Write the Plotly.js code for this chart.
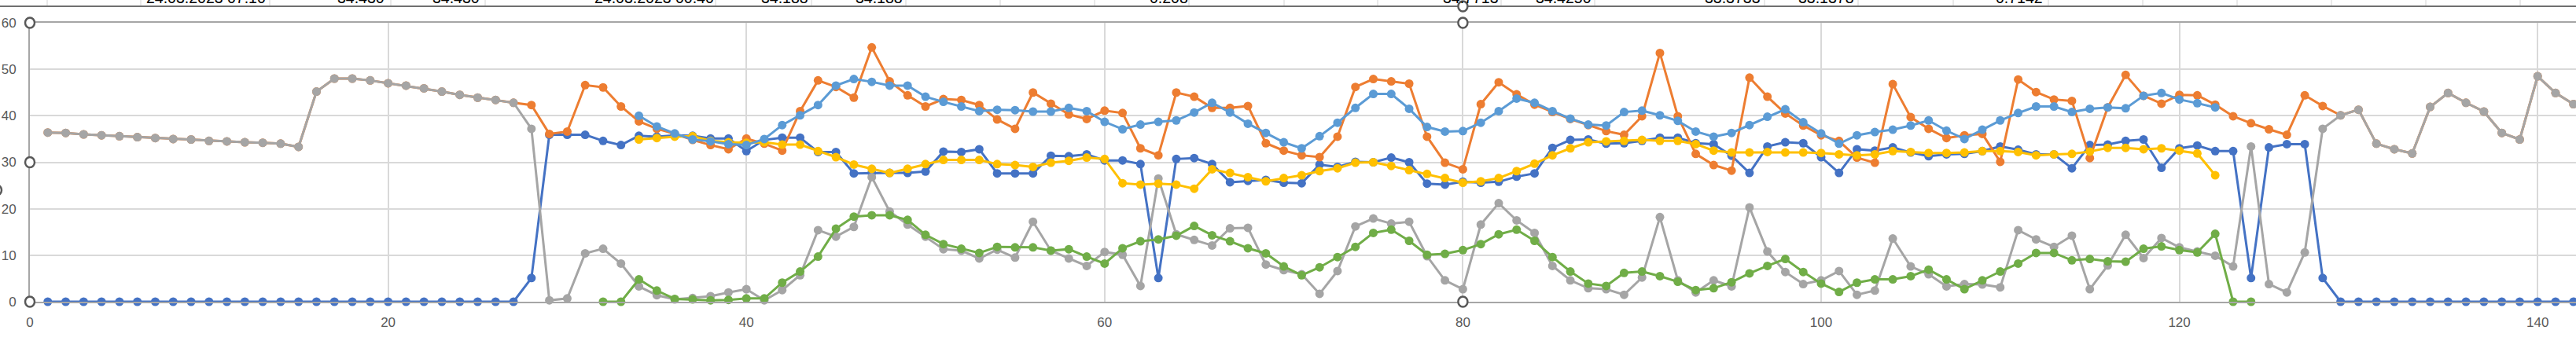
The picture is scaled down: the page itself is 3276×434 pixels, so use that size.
<!DOCTYPE html>
<html>
<head>
<meta charset="utf-8">
<script src="https://cdn.plot.ly/plotly-3.0.1.min.js"></script>
<style>
  html, body { margin: 0; padding: 0; overflow: hidden; background: #fff; }
  #chart { width: 3276px; height: 434px; }
</style>
</head>
<body>
<div id="chart"></div>
<script>
// sample index on the x axis (1..142)
const sampleIdx = Array.from({length: 142}, (_, i) => i + 1);

// series values, null where a series has no point
const blueVals = [
  0, 0, 0, 0, 0, 0, 0, 0, 0, 0, 0, 0, 0, 0, 0, 0, 0, 0, 0, 0, 0, 0, 0, 0, 0, 0, 0,
  5.1,
  35.9, 35.9, 35.9, 34.6, 33.7, 35.7, 35.5, 35.8, 35.7, 35.1, 35.1, 32.4, 34.8, 35.3, 35.3, 32.2,
  32.2, 27.6, 27.7, 27.7, 27.7, 28.0, 32.3, 32.2, 32.8, 27.6, 27.6, 27.6, 31.4, 31.3, 31.7, 30.4, 30.4, 29.6,
  5.1, 30.7, 30.9, 29.6, 25.7, 26.0, 26.2, 25.6, 25.5, 29.5, 29.0, 30.1, 30.0, 31.0, 30.0, 25.4, 25.2,
  25.8, 25.6, 25.8, 26.9, 27.6, 33.1, 34.8, 34.9, 34.0, 34.1, 34.6, 35.3, 35.3, 34.1, 33.9, 31.4, 27.7,
  33.4, 34.3, 34.1, 31.1, 27.7, 32.8, 32.5, 33.2, 32.1, 31.3, 31.7, 31.8, 32.4, 33.4, 32.7, 31.7, 31.7,
  28.7, 33.7, 33.8, 34.6, 34.9, 28.8, 33.0, 33.6, 32.4, 32.4, 5.1, 33.2, 33.9, 33.9, 5.1,
  0, 0, 0, 0, 0, 0, 0, 0, 0, 0, 0, 0, 0, 0
];

const orangeVals = [
  36.4, 36.3, 36.0, 35.8, 35.6, 35.4, 35.2, 35.0, 34.9, 34.6, 34.5, 34.3, 34.2, 34.0, 33.3,
  45.2, 48.0, 48.0, 47.6, 47.0, 46.5, 45.9, 45.2, 44.5, 43.9, 43.4, 42.8,
  42.3, 36.1, 36.6, 46.6, 46.1, 42.0, 38.8, 37.2, 36.1, 34.8, 33.7, 32.8, 35.1, 34.0, 32.5, 41.0, 47.6,
  46.2, 43.9, 54.7, 47.4, 44.4, 42.0, 43.6, 43.4, 42.3, 39.2, 37.2, 45.0, 42.6, 40.3, 39.3, 41.1, 40.6, 33.0,
  31.5, 45.0, 44.1, 41.7, 41.7, 42.1, 34.1, 32.5, 31.5, 31.1, 35.5, 46.2, 47.9, 47.4, 46.9, 35.5, 29.9,
  28.5, 42.5, 47.2, 44.6, 42.4, 40.8, 39.3, 38.0, 36.7, 35.9, 39.9, 53.5, 39.9, 31.8, 29.4, 28.2, 48.2,
  44.1, 40.5, 37.9, 35.8, 34.6, 31.0, 29.9, 46.8, 39.7, 37.2, 35.2, 35.8, 36.1, 30.1, 47.8, 45.1, 43.5,
  43.2, 30.9, 41.8, 48.8, 44.3, 42.6, 44.5, 44.4, 42.4, 39.9, 38.4, 37.1, 35.9, 44.4, 42.1, 40.1,
  41.3, 34.0, 32.8, 31.9, 41.9, 44.9, 42.8, 40.9, 36.3, 34.9, 48.5, 44.9, 42.5
];

const grayVals = [
  36.4, 36.3, 36.0, 35.8, 35.6, 35.4, 35.2, 35.0, 34.9, 34.6, 34.5, 34.3, 34.2, 34.0, 33.3,
  45.2, 48.0, 48.0, 47.6, 47.0, 46.5, 45.9, 45.2, 44.5, 43.9, 43.4, 42.8,
  37.2,
  0.3, 0.7, 10.4, 11.4, 8.2, 3.3, 1.4, 0.5, 0.8, 1.2, 2.0, 2.7, 0.3, 2.5, 5.7, 15.4,
  14.0, 16.1, 26.8, 19.4, 16.6, 14.0, 11.3, 11.0, 9.3, 11.2, 9.5, 17.2, 11.0, 9.3, 7.7, 10.7, 10.1, 3.4,
  26.5, 14.5, 13.3, 12.1, 15.8, 15.9, 8.0, 6.8, 5.9, 1.7, 6.6, 16.2, 17.9, 16.8, 17.2, 9.8, 4.6,
  2.7, 16.6, 21.2, 17.5, 14.8, 7.7, 4.6, 2.9, 2.7, 1.5, 5.2, 18.2, 4.6, 2.0, 4.6, 3.3, 20.3,
  10.8, 6.4, 3.8, 4.6, 6.6, 1.5, 2.4, 13.6, 7.6, 5.9, 3.3, 3.8, 3.7, 3.1, 15.4, 13.4, 11.8,
  14.2, 2.7, 7.8, 14.4, 9.4, 13.7, 11.7, 10.8, 9.9, 7.6, 33.4, 3.8, 2.0, 10.6, 37.2, 40.1, 41.3,
  34.0, 32.8, 31.9, 41.9, 44.9, 42.8, 40.9, 36.3, 34.9, 48.5, 44.9, 42.5
];

const yellowVals = [
  null, null, null, null, null, null, null, null, null, null, null,
  null, null, null, null, null, null, null, null, null, null, null,
  null, null, null, null, null, null, null, null, null, null, null,
  34.9, 35.2, 35.5, 35.6, 34.6, 34.3, 34.2, 34.3, 33.8, 33.8, 32.4,
  31.1, 29.5, 28.6, 27.7, 28.6, 29.6, 30.5, 30.5, 30.5, 29.6, 29.4, 29.0, 29.9, 30.3, 31.0, 30.7, 25.5, 25.2,
  25.4, 25.2, 24.3, 28.5, 27.7, 26.8, 25.9, 26.6, 27.2, 28.1, 28.7, 29.9, 30.0, 29.2, 28.3, 27.5, 26.6,
  25.6, 25.9, 26.6, 28.1, 29.7, 31.5, 33.0, 34.3, 34.5, 34.6, 34.8, 34.6, 34.6, 33.9, 32.5, 32.1, 32.1,
  32.2, 32.1, 32.1, 32.0, 31.7, 31.5, 31.7, 32.4, 32.2, 32.0, 32.0, 32.1, 32.4, 32.4, 32.2, 31.5, 31.7,
  31.8, 32.3, 33.1, 33.1, 32.8, 33.0, 32.5, 31.9, 27.2,
  null, null, null, null, null, null, null, null, null, null,
  null, null, null, null, null, null, null, null, null, null
];

const lightBlueVals = [
  null, null, null, null, null, null, null, null, null, null, null,
  null, null, null, null, null, null, null, null, null, null, null,
  null, null, null, null, null, null, null, null, null, null, null,
  40.0, 37.7, 36.2, 34.9, 34.5, 33.9, 33.7, 35.0, 38.0, 40.1, 42.3,
  46.5, 47.9, 47.3, 46.5, 46.5, 44.1, 43.0, 42.0, 41.0, 41.3, 41.2, 40.9, 40.9, 41.7, 41.0, 38.7, 37.1, 38.1,
  38.7, 39.0, 40.7, 42.8, 40.7, 38.3, 36.3, 34.3, 33.0, 35.6, 38.5, 41.7, 44.7, 44.7, 41.5, 37.6, 36.6,
  36.7, 38.5, 41.0, 43.7, 42.8, 41.0, 39.4, 38.1, 37.9, 40.8, 41.1, 40.1, 38.9, 36.6, 35.5, 36.3, 38.0,
  39.8, 41.4, 38.6, 36.2, 34.0, 35.8, 36.5, 37.0, 37.9, 39.0, 36.8, 35.0, 37.0, 39.0, 40.6, 42.0, 42.0,
  40.8, 41.5, 41.8, 41.6, 44.3, 44.9, 43.5, 42.7, 41.8,
  null, null, null, null, null, null, null, null, null, null,
  null, null, null, null, null, null, null, null, null, null
];

const greenVals = [
  null, null, null, null, null, null, null, null, null, null,
  null, null, null, null, null, null, null, null, null, null,
  null, null, null, null, null, null, null, null, null, null, null,
  0, 0, 4.8, 2.4, 0.6, 0.5, 0.3, 0.4, 0.7, 0.7, 4.1, 6.5, 9.7,
  15.7, 18.3, 18.6, 18.6, 17.6, 14.4, 12.4, 11.4, 10.5, 11.8, 11.7, 11.7, 11.0, 11.3, 9.7, 8.2, 11.5, 13.0,
  13.4, 14.2, 16.3, 14.3, 13.0, 11.5, 10.4, 7.6, 5.7, 7.4, 9.6, 11.8, 14.8, 15.5, 13.1, 10.1, 10.3,
  11.1, 12.4, 14.5, 15.5, 13.1, 9.6, 6.5, 3.9, 3.4, 6.2, 6.5, 5.5, 4.3, 2.5, 2.9, 4.2, 6.1,
  7.7, 9.2, 6.4, 3.9, 2.1, 4.1, 4.8, 4.8, 5.5, 6.9, 4.8, 2.7, 4.6, 6.5, 8.2, 10.5, 10.5,
  8.9, 9.2, 8.7, 8.6, 11.4, 11.9, 11.1, 10.6, 14.6, 0, 0,
  null, null, null, null, null, null, null, null, null,
  null, null, null, null, null, null, null, null, null
];

// cut-off spreadsheet row above the chart: text, right edge in px
const cellTexts = ['24.03.2023 07.10', '34.430', '34.430', '24.03.2023 00.40', '34.188', '34.188',
  '0.208', '34.7713', '34.4250', '33.3733', '33.1378', '0.7142'];
const cellTextRight = [340, 491, 612, 910, 1030, 1150, 1513, 1908, 2026, 2241, 2360, 2600];
const cellBorders = [60, 179, 343, 497, 617, 910, 1032, 1152, 1272, 1392, 1512, 1633, 1752, 1909,
  2028, 2244, 2363, 2484, 2605, 2725, 2845, 2965, 3085, 3205];

(function () {
  const W = 3276, H = 434;
  const mL = 38, mT = 29, mB = 50;
  const plotW = W - mL, plotH = H - mT - mB;
  const pxPerUnit = 22.78;

  const px2x = function (px) { return (px - mL) / plotW; };
  const py2y = function (py) { return (H - mB - py) / plotH; };
  // pixel row of a y value (for the handle at y = 30)
  const val2py = function (v) { return H - mB - v / 60 * plotH; };

  const makeTrace = function (vals, color) {
    return {
      x: sampleIdx,
      y: vals,
      type: 'scatter',
      mode: 'lines+markers',
      line: {color: color, width: 3},
      marker: {color: color, size: 11},
      cliponaxis: false,
      connectgaps: false,
      hoverinfo: 'skip'
    };
  };

  const traces = [
    makeTrace(blueVals, '#4472C4'),
    makeTrace(orangeVals, '#ED7D31'),
    makeTrace(grayVals, '#A5A5A5'),
    makeTrace(yellowVals, '#FFC000'),
    makeTrace(lightBlueVals, '#5B9BD5'),
    makeTrace(greenVals, '#70AD47')
  ];

  const shapes = [];
  // sheet cell borders above the chart
  cellBorders.forEach(function (bx) {
    shapes.push({type: 'line', xref: 'paper', yref: 'paper',
      x0: px2x(bx), x1: px2x(bx), y0: py2y(-1), y1: py2y(7),
      line: {color: '#d4d4d4', width: 1}});
  });
  // chart area border (top edge)
  shapes.push({type: 'line', xref: 'paper', yref: 'paper',
    x0: px2x(-2), x1: px2x(W + 2), y0: py2y(8), y1: py2y(8),
    line: {color: '#404040', width: 1.6}});

  // selection handles
  const midX = mL + 80 * pxPerUnit;
  const handles = [[mL, mT], [mL, val2py(30)], [mL, H - mB],
    [midX, mT], [midX, H - mB], [midX, 8], [-4, 242]];
  handles.forEach(function (h) {
    shapes.push({type: 'circle', xref: 'paper', yref: 'paper',
      xsizemode: 'pixel', ysizemode: 'pixel',
      xanchor: px2x(h[0]), yanchor: py2y(h[1]),
      x0: -6, x1: 6, y0: -6.5, y1: 6.5,
      fillcolor: '#ffffff', line: {color: '#595959', width: 2.5}});
  });

  const annotations = cellTexts.map(function (t, i) {
    return {
      text: t, showarrow: false, xref: 'paper', yref: 'paper',
      x: px2x(cellTextRight[i]), xanchor: 'right',
      y: py2y(10), yanchor: 'bottom',
      font: {family: 'Liberation Sans, Arial, sans-serif', size: 19.5, color: '#000000'}
    };
  });

  const layout = {
    width: W,
    height: H,
    margin: {l: mL, r: 0, t: mT, b: mB, pad: 0},
    paper_bgcolor: '#ffffff',
    plot_bgcolor: '#ffffff',
    showlegend: false,
    font: {family: 'Liberation Sans, Arial, sans-serif', size: 17, color: '#595959'},
    xaxis: {
      range: [0, plotW / pxPerUnit],
      tickmode: 'linear', tick0: 0, dtick: 20,
      showgrid: true, gridcolor: '#d9d9d9', gridwidth: 2,
      zeroline: false,
      showline: true, linecolor: '#a6a6a6', linewidth: 2, mirror: true,
      ticks: '', ticklabelstandoff: 10,
      tickfont: {size: 17, color: '#595959'}
    },
    yaxis: {
      range: [0, 60],
      tickmode: 'linear', tick0: 0, dtick: 10,
      showgrid: true, gridcolor: '#d9d9d9', gridwidth: 2,
      zeroline: false,
      showline: true, linecolor: '#a6a6a6', linewidth: 2,
      ticks: '', ticklabelstandoff: 12,
      tickfont: {size: 17, color: '#595959'}
    },
    shapes: shapes,
    annotations: annotations
  };

  Plotly.newPlot('chart', traces, layout, {staticPlot: true, displayModeBar: false});
})();
</script>
</body>
</html>
